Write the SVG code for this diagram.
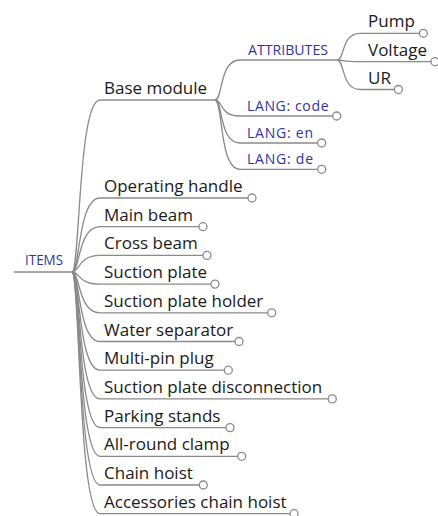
<svg xmlns="http://www.w3.org/2000/svg" width="438" height="516" viewBox="0 0 438 516">
<style>
.t{font-family:"Open Sans","Noto Sans",sans-serif;font-size:17px;fill:#1a1a1a}
.b{font-family:"Open Sans","Noto Sans",sans-serif;font-size:14px;fill:#3232a6}
.c{fill:none;stroke:#8a8a8a;stroke-width:1.3}
.e{fill:#fff;stroke:#8a8a8a;stroke-width:1.3}
</style>
<rect width="438" height="516" fill="#fff"/>
<g id="connectors" class="c">
<path d="M14,272 H72"/>
<path d="M72,272 C80,272 78,100 100,100 H215"/>
<path d="M72,272 C80,272 78,198 100,198 H248"/>
<path d="M72,272 C80,272 78,226.7 100,226.7 H199"/>
<path d="M72,272 C80,272 78,255.4 100,255.4 H203"/>
<path d="M72,272 C80,272 78,284.1 100,284.1 H211"/>
<path d="M72,272 C80,272 78,312.8 100,312.8 H267.7"/>
<path d="M72,272 C80,272 78,341.5 100,341.5 H235"/>
<path d="M72,272 C80,272 78,370.2 100,370.2 H224.3"/>
<path d="M72,272 C80,272 78,398.9 100,398.9 H328.3"/>
<path d="M72,272 C80,272 78,427.6 100,427.6 H226"/>
<path d="M72,272 C80,272 78,456.3 100,456.3 H237.7"/>
<path d="M72,272 C80,272 78,485 100,485 H199.3"/>
<path d="M72,272 C80,272 78,513.7 100,513.7 H290"/>
<path d="M215,100 C223,100 219,60 240,60 H337"/>
<path d="M215,100 C223,100 219,116 240,116 H332.7"/>
<path d="M215,100 C223,100 219,143 240,143 H317.7"/>
<path d="M215,100 C223,100 219,169.3 240,169.3 H317.7"/>
<path d="M337,60 C345,60 341,33.3 360,33.3 H419.3"/>
<path d="M337,60 C345,60 341,61.7 360,61.7 H431"/>
<path d="M337,60 C345,60 341,89.5 360,89.5 H394.3"/>
</g>
<g id="n-items"><text class="b" x="25" y="265" textLength="38" lengthAdjust="spacingAndGlyphs">ITEMS</text></g>
<g id="n-base"><text class="t" x="104" y="93.5">Base module</text></g>
<g id="n-attributes"><text class="b" x="248" y="55" textLength="80" lengthAdjust="spacingAndGlyphs">ATTRIBUTES</text></g>
<g id="n-pump"><text class="t" x="368" y="27">Pump</text><circle class="e" cx="423.3" cy="33.3" r="4"/></g>
<g id="n-voltage"><text class="t" x="368" y="55.5">Voltage</text><circle class="e" cx="435" cy="61.7" r="4"/></g>
<g id="n-ur"><text class="t" x="368" y="83.5">UR</text><circle class="e" cx="398.3" cy="89.5" r="4"/></g>
<g id="n-lang-code"><text class="b" x="247" y="111" textLength="81.5" lengthAdjust="spacing">LANG: code</text><circle class="e" cx="336.7" cy="116" r="4"/></g>
<g id="n-lang-en"><text class="b" x="247" y="138" textLength="66" lengthAdjust="spacing">LANG: en</text><circle class="e" cx="321.7" cy="143" r="4"/></g>
<g id="n-lang-de"><text class="b" x="247" y="164.3" textLength="66" lengthAdjust="spacing">LANG: de</text><circle class="e" cx="321.7" cy="169.3" r="4"/></g>
<g id="n-operating-handle"><text class="t" x="104" y="192">Operating handle</text><circle class="e" cx="252" cy="198" r="4"/></g>
<g id="n-main-beam"><text class="t" x="104" y="220.7">Main beam</text><circle class="e" cx="203" cy="226.7" r="4"/></g>
<g id="n-cross-beam"><text class="t" x="104" y="249.4">Cross beam</text><circle class="e" cx="207" cy="255.4" r="4"/></g>
<g id="n-suction-plate"><text class="t" x="104" y="278.1">Suction plate</text><circle class="e" cx="215" cy="284.1" r="4"/></g>
<g id="n-suction-plate-holder"><text class="t" x="104" y="306.8">Suction plate holder</text><circle class="e" cx="271.7" cy="312.8" r="4"/></g>
<g id="n-water-separator"><text class="t" x="104" y="335.5">Water separator</text><circle class="e" cx="239" cy="341.5" r="4"/></g>
<g id="n-multi-pin-plug"><text class="t" x="104" y="364.2">Multi-pin plug</text><circle class="e" cx="228.3" cy="370.2" r="4"/></g>
<g id="n-suction-plate-disconnection"><text class="t" x="104" y="392.9">Suction plate disconnection</text><circle class="e" cx="332.3" cy="398.9" r="4"/></g>
<g id="n-parking-stands"><text class="t" x="104" y="421.6">Parking stands</text><circle class="e" cx="230" cy="427.6" r="4"/></g>
<g id="n-all-round-clamp"><text class="t" x="104" y="450.3">All-round clamp</text><circle class="e" cx="241.7" cy="456.3" r="4"/></g>
<g id="n-chain-hoist"><text class="t" x="104" y="479">Chain hoist</text><circle class="e" cx="203.3" cy="485" r="4"/></g>
<g id="n-accessories-chain-hoist"><text class="t" x="104" y="507.7">Accessories chain hoist</text><circle class="e" cx="294" cy="513.7" r="4"/></g>
</svg>
